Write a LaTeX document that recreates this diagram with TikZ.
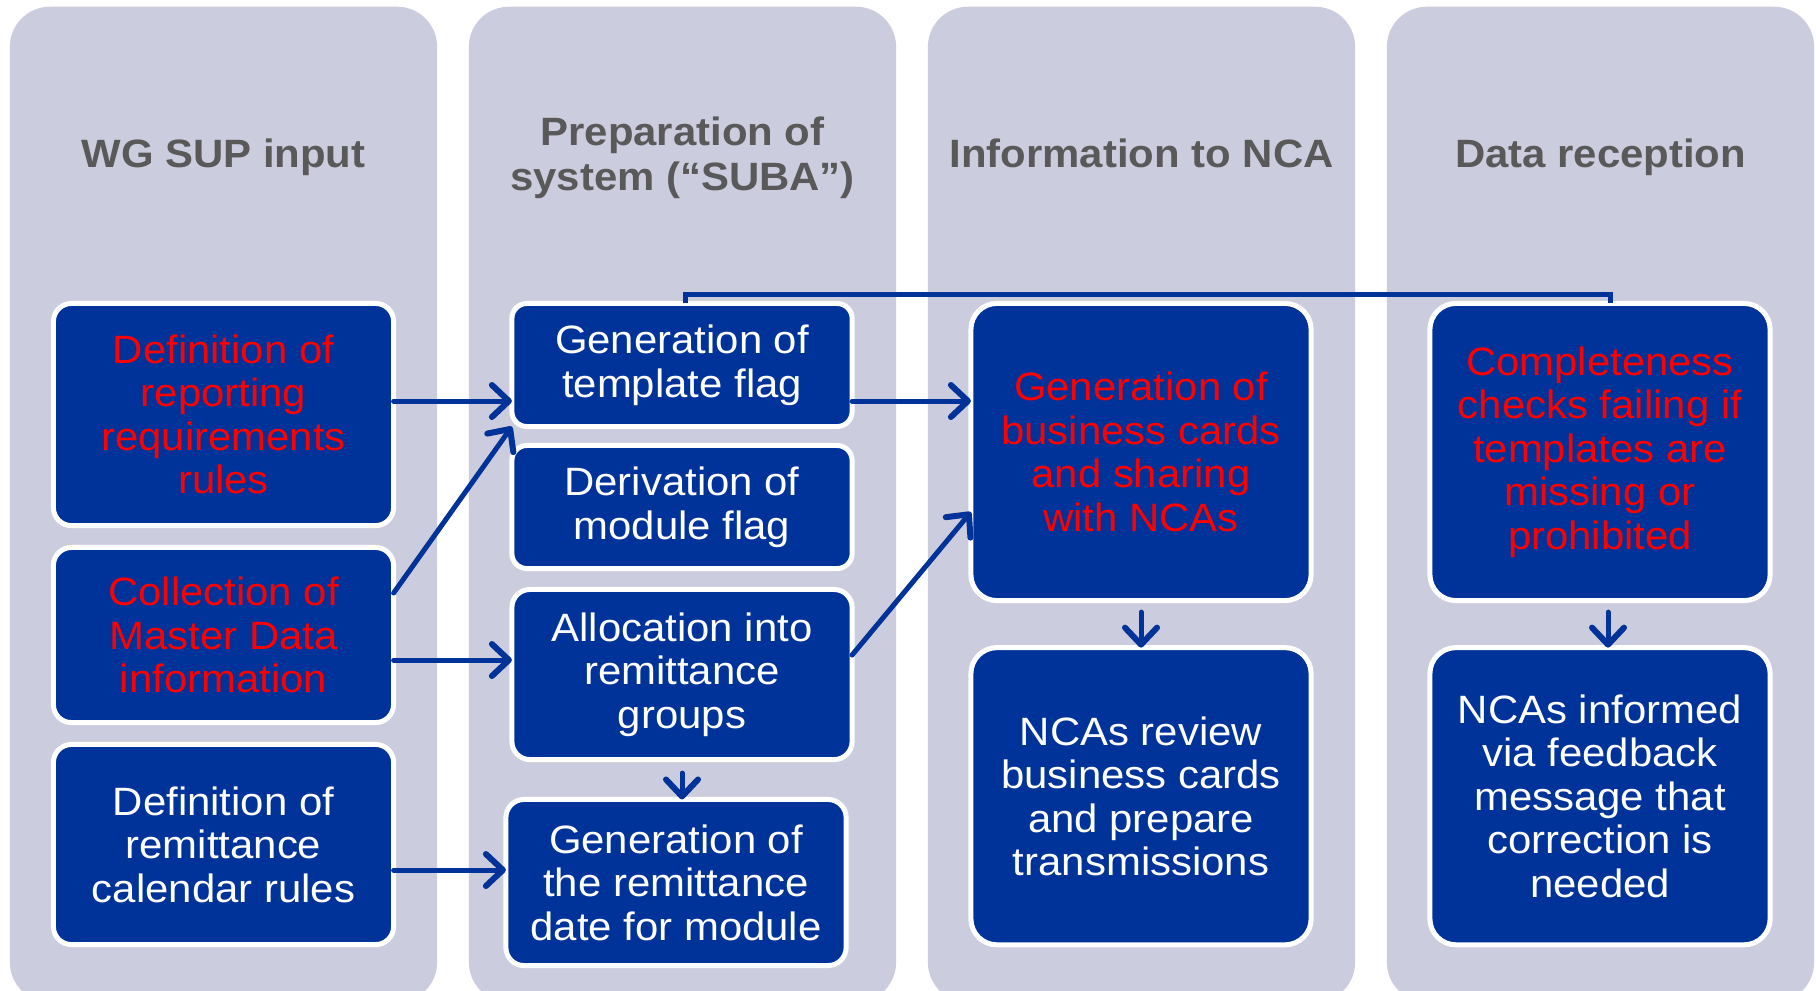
\documentclass[tikz,border=0pt]{standalone}
\usepackage{fontspec}
\setmainfont{Liberation Sans}[FakeStretch=1.06]
\usepackage{xcolor}
\usepackage{tikz}
\usetikzlibrary{positioning, arrows.meta}

\definecolor{LaneGray}{RGB}{204,204,223}
\definecolor{BoxBlue}{RGB}{0,51,153}
\definecolor{TitleGray}{RGB}{89,89,89}
\definecolor{AlertRed}{RGB}{255,0,0}

\begin{document}
\begin{tikzpicture}[x=0.01cm, y=-0.01cm,
		LaneBox/.style={rectangle, rounded corners=0.4cm, fill=LaneGray, minimum width=4.27cm, minimum height=9.95cm, inner sep=0pt},
		LaneTitle/.style={text=TitleGray, font=\fontsize{11.24pt}{12.8pt}\selectfont\bfseries, align=center, inner sep=0pt},
		TaskBox/.style={rectangle, rounded corners=0.18cm, draw=white, line width=0.05cm, fill=BoxBlue, text=white, font=\fontsize{11.24pt}{12.38pt}\selectfont, align=center, minimum width=3.4cm, inner sep=0pt, outer sep=0pt},
		RedBox/.style={TaskBox, text=AlertRed},
		FlowArrow/.style={draw=BoxBlue, line width=0.05cm, line cap=round, -{Straight Barb[length=0.17cm, width=0.32cm, round, line width=0.06cm]}},
		LoopLine/.style={draw=BoxBlue, line width=0.05cm}]

	% Page
	\useasboundingbox (0,0) rectangle (1816,990);
	\fill[white] (0,0) rectangle (1816,990);
	\clip (0,0) rectangle (1816,990);

	% Lanes
	\node[LaneBox] (LaneInput) at (223.5,504.5) {};
	\node[LaneBox] (LaneSystem) at (682.5,504.5) {};
	\node[LaneBox] (LaneNCA) at (1141.5,504.5) {};
	\node[LaneBox] (LaneReception) at (1600.5,504.5) {};

	% Lane titles
	\node[LaneTitle, anchor=base] (TitleInput) at (223.5,167) {WG SUP input};
	\node[LaneTitle, anchor=north] (TitleSystem) at (682.5,116) {Preparation of\\system (“SUBA”)};
	\node[LaneTitle, anchor=base] (TitleNCA) at (1141.5,167) {Information to NCA};
	\node[LaneTitle, anchor=base] (TitleReception) at (1600.5,167) {Data reception};

	% Nodes
	\node[RedBox, minimum height=2.22cm] (DefReport) at (223.5,414.5) {Definition of\\reporting\\requirements\\rules};
	\node[RedBox, minimum height=1.75cm] (MasterData) at (223.5,635) {Collection of\\Master Data\\information};
	\node[TaskBox, minimum height=2.0cm] (DefCalendar) at (223.5,844.5) {Definition of\\remittance\\calendar rules};

	\node[TaskBox, minimum height=1.23cm, rounded corners=0.15cm] (TemplateFlag) at (682,365) {Generation of\\template flag};
	\node[TaskBox, minimum height=1.23cm, rounded corners=0.15cm] (ModuleFlag) at (682,507) {Derivation of\\module flag};
	\node[TaskBox, minimum height=1.70cm] (RemitGroups) at (682,674.5) {Allocation into\\remittance\\groups};
	\node[TaskBox, minimum height=1.66cm] (RemitDate) at (676,882.5) {Generation of\\the remittance\\date for module};

	\node[RedBox, minimum height=2.97cm, rounded corners=0.26cm] (BizCards) at (1141,452) {Generation of\\business cards\\and sharing\\with NCAs};
	\node[TaskBox, minimum height=2.97cm, rounded corners=0.26cm, below=0.47cm of BizCards] (NCAReview) {NCAs review\\business cards\\and prepare\\transmissions};

	\node[RedBox, minimum height=2.97cm, rounded corners=0.26cm] (CheckFail) at (1600,452) {Completeness\\checks failing if\\templates are\\missing or\\prohibited};
	\node[TaskBox, minimum height=2.97cm, rounded corners=0.26cm, below=0.47cm of CheckFail] (NCAFeedback) {NCAs informed\\via feedback\\message that\\correction is\\needed};

	% Lines
	\draw[FlowArrow] (DefReport.east |- 0,401) -- (TemplateFlag.west |- 0,401);
	\draw[FlowArrow] (MasterData.east |- 0,593) -- (TemplateFlag.south west);
	\draw[FlowArrow] (MasterData.east |- 0,660) -- (RemitGroups.west |- 0,660);
	\draw[FlowArrow] (DefCalendar.east |- 0,870) -- (RemitDate.west |- 0,870);
	\draw[FlowArrow] (TemplateFlag.east |- 0,401) -- (BizCards.west |- 0,401);
	\draw[FlowArrow] (RemitGroups.east |- 0,655) -- (BizCards.west |- 0,512);
	\draw[FlowArrow, shorten <=0.135cm] (RemitGroups.south) -- (RemitGroups.south |- RemitDate.north);
	\draw[FlowArrow, shorten <=0.115cm] (BizCards.south) -- (NCAReview.north);
	\draw[FlowArrow, shorten <=0.115cm] ([xshift=0.08cm]CheckFail.south) -- ([xshift=0.08cm]NCAFeedback.north);

	% Feedback loop
	\draw[LoopLine] ([xshift=0.03cm]TemplateFlag.north) -- ++(0,-9) -| ([xshift=0.1cm]CheckFail.north);
\end{tikzpicture}
\end{document}
